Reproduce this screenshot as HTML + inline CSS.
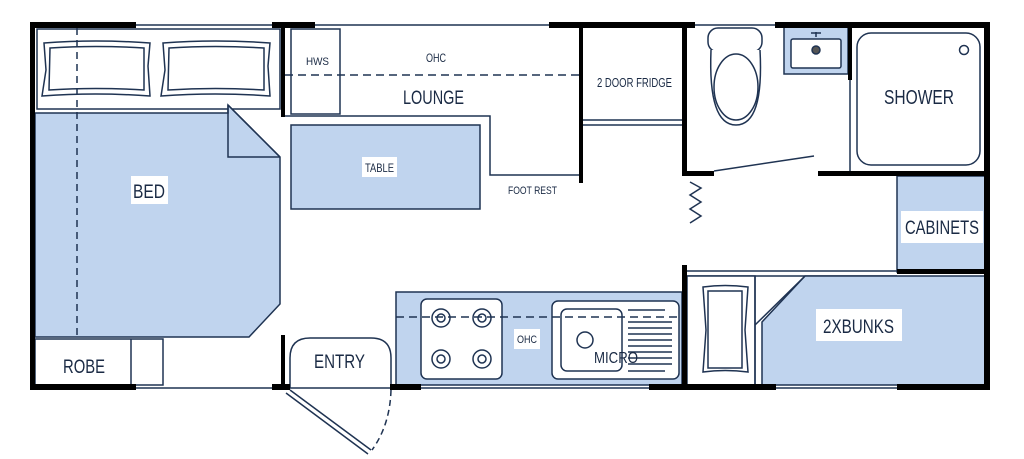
<!DOCTYPE html>
<html><head><meta charset="utf-8"><style>
html,body{margin:0;padding:0;background:#fff;}
svg{display:block;}
text{font-family:"Liberation Sans",sans-serif;fill:#1a2a44;}
</style></head><body>
<svg width="1024" height="459" viewBox="0 0 1024 459" xmlns="http://www.w3.org/2000/svg">
<g stroke="#1f3352" fill="none" stroke-width="1.5">
<rect x="37" y="29" width="243" height="80" fill="#fff"/>
<path d="M35 113 H228 V105 L280 157 V304 L249 337 H35 Z" fill="#c0d4ee"/>
<path d="M228 105 V157 H280" />
<line x1="228" y1="105" x2="280" y2="157"/>
<path d="M44 43 Q95 39 150 43 L148 66 L150 96 Q95 92 42 96 L46 70 Z" fill="#fff"/>
<path d="M50 48 Q95 45 144 48 V90 Q95 87 49 90 Z"/>
<path d="M163 43 Q215 39 270 43 L268 66 L270 96 Q215 92 161 96 L165 70 Z" fill="#fff"/>
<path d="M169 48 Q215 45 264 48 V90 Q215 87 168 90 Z"/>
<line x1="77" y1="28" x2="77" y2="385" stroke-dasharray="7,5"/>
<rect x="35" y="339" width="128" height="46" fill="#fff"/>
<line x1="131" y1="339" x2="131" y2="385"/>
<rect x="291" y="29" width="49" height="85"/>
<line x1="285" y1="75" x2="580" y2="75" stroke-dasharray="8,5"/>
<path d="M285 116 H490 V175 H580"/>
<rect x="291" y="125" width="189" height="84" fill="#c0d4ee"/>
<line x1="583" y1="120" x2="682" y2="120"/>
<line x1="583" y1="125" x2="682" y2="125"/>
<rect x="784" y="27" width="64" height="47" fill="#c0d4ee"/>
<rect x="791" y="39" width="50" height="29" rx="2" fill="#fff"/>
<circle cx="816" cy="50" r="4" fill="#555"/>
<line x1="816" y1="32" x2="816" y2="37"/><line x1="811" y1="33" x2="821" y2="33"/>
<rect x="708" y="28" width="54" height="24" rx="10" fill="#fff"/>
<path d="M711 50 Q708 125 736 125 Q764 125 760 50" fill="#fff"/>
<ellipse cx="736" cy="87" rx="22" ry="33"/>
<line x1="850" y1="27" x2="850" y2="172"/>
<rect x="857" y="33" width="123" height="132" rx="14" fill="#fff"/>
<circle cx="964" cy="50" r="4.5"/>
<line x1="714" y1="171" x2="814" y2="156"/>
<polyline points="690,182 701,188 690,195 701,202 690,209 701,216 690,223"/>
<rect x="897" y="176" width="88" height="96" fill="#c0d4ee"/>
<line x1="685" y1="271" x2="897" y2="271"/>
<line x1="685" y1="276" x2="897" y2="276"/>
<rect x="687" y="276" width="68" height="109" fill="#fff"/>
<line x1="755" y1="276" x2="755" y2="385"/>
<path d="M762 322 L805 276 H985 V385 H762 Z" fill="#c0d4ee"/>
<line x1="755" y1="325" x2="805" y2="276"/>
<path d="M703 287 Q725 284 748 287 L745 330 L748 372 Q725 369 703 372 L706 330 Z" fill="#fff"/>
<rect x="708" y="291" width="34" height="77"/>
<rect x="396" y="292" width="286" height="93" fill="#c0d4ee"/>
<rect x="421" y="299" width="81" height="80" rx="6" fill="#fff"/>
<g fill="#fff"><circle cx="441" cy="318" r="9"/><circle cx="482" cy="318" r="9"/><circle cx="441" cy="359" r="9"/><circle cx="482" cy="359" r="9"/></g>
<circle cx="441" cy="318" r="4"/><circle cx="482" cy="318" r="4"/><circle cx="441" cy="359" r="4"/><circle cx="482" cy="359" r="4"/>
<rect x="552" y="301" width="127" height="78" rx="6" fill="#fff"/>
<rect x="561" y="309" width="61" height="62" rx="6"/>
<circle cx="585" cy="340" r="8"/>
<line x1="396" y1="317" x2="682" y2="317" stroke-dasharray="8,5"/>
<g><line x1="628" y1="310" x2="665" y2="310"/><line x1="628" y1="322" x2="672" y2="322"/><line x1="628" y1="328" x2="672" y2="328"/><line x1="628" y1="334" x2="672" y2="334"/><line x1="628" y1="340" x2="672" y2="340"/><line x1="628" y1="346" x2="672" y2="346"/><line x1="628" y1="352" x2="672" y2="352"/><line x1="628" y1="358" x2="672" y2="358"/><line x1="628" y1="364" x2="672" y2="364"/><line x1="628" y1="371" x2="665" y2="371"/></g>
<path d="M290 388 V358 Q290 338 310 338 H371 Q391 338 391 358 V388" fill="#fff"/>
<path d="M290 390 L371 450 M286 393 L368 454"/>
<path d="M391 390 Q390 425 372 450" stroke-dasharray="6,4"/>
<line x1="30" y1="25" x2="989" y2="25"/>
<line x1="30" y1="388" x2="989" y2="388"/>
</g>
<g fill="#000">
<rect x="30" y="22" width="106" height="6"/>
<rect x="272" y="22" width="43" height="6"/>
<rect x="549" y="22" width="146" height="6"/>
<rect x="775" y="22" width="215" height="6"/>
<rect x="30" y="22" width="5" height="368"/>
<rect x="984" y="22" width="6" height="368"/>
<rect x="30" y="384" width="106" height="6"/>
<rect x="272" y="384" width="18" height="6"/>
<rect x="390" y="384" width="31" height="6"/>
<rect x="649" y="384" width="127" height="6"/>
<rect x="897" y="384" width="93" height="6"/>
<rect x="281" y="22" width="4" height="95"/>
<rect x="281" y="335" width="4" height="53"/>
<rect x="579" y="24" width="4" height="159"/>
<rect x="682" y="24" width="5" height="152"/>
<rect x="682" y="171" width="32" height="5"/>
<rect x="818" y="171" width="170" height="5"/>
<rect x="848" y="24" width="4" height="56"/>
<rect x="897" y="269" width="90" height="5"/>
<rect x="682" y="265" width="5" height="123"/>
</g>
<g>
<rect x="131" y="176" width="37" height="28" fill="#fff"/>
<text x="133" y="198" font-size="19" textLength="32" lengthAdjust="spacingAndGlyphs">BED</text>
<text x="306" y="65" font-size="11" textLength="23" lengthAdjust="spacingAndGlyphs">HWS</text>
<text x="426" y="62" font-size="12" textLength="20" lengthAdjust="spacingAndGlyphs">OHC</text>
<text x="403" y="104" font-size="19" textLength="61" lengthAdjust="spacingAndGlyphs">LOUNGE</text>
<rect x="362" y="157" width="35" height="20" fill="#fff"/>
<text x="365" y="172" font-size="12" textLength="29" lengthAdjust="spacingAndGlyphs">TABLE</text>
<text x="508" y="194" font-size="11" textLength="49" lengthAdjust="spacingAndGlyphs">FOOT REST</text>
<text x="597" y="87" font-size="13" textLength="75" lengthAdjust="spacingAndGlyphs">2 DOOR FRIDGE</text>
<text x="884" y="104" font-size="20" textLength="70" lengthAdjust="spacingAndGlyphs">SHOWER</text>
<rect x="901" y="211" width="82" height="32" fill="#fff"/>
<text x="905" y="234" font-size="19" textLength="74" lengthAdjust="spacingAndGlyphs">CABINETS</text>
<rect x="816" y="309" width="86" height="32" fill="#fff"/>
<text x="823" y="333" font-size="19" textLength="71" lengthAdjust="spacingAndGlyphs">2XBUNKS</text>
<rect x="514" y="329" width="26" height="20" fill="#fff"/>
<text x="517" y="343" font-size="11" textLength="20" lengthAdjust="spacingAndGlyphs">OHC</text>
<text x="594" y="363" font-size="16" textLength="44" lengthAdjust="spacingAndGlyphs">MICRO</text>
<text x="63" y="373" font-size="19" textLength="42" lengthAdjust="spacingAndGlyphs">ROBE</text>
<text x="314" y="368" font-size="19" textLength="51" lengthAdjust="spacingAndGlyphs">ENTRY</text>
</g>
</svg>
</body></html>
